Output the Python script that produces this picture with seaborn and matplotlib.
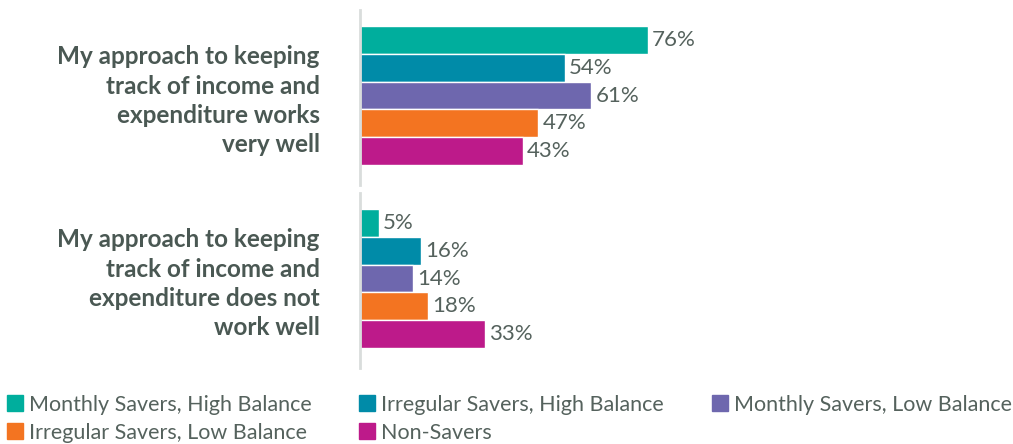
import matplotlib
matplotlib.use("Agg")
import matplotlib.pyplot as plt
from matplotlib.lines import Line2D
import seaborn as sns
import pandas as pd

sns.set_style("white")
plt.rcParams["font.family"] = ["Lato", "DejaVu Sans"]

statements = [
    "My approach to keeping\ntrack of income and\nexpenditure works\nvery well",
    "My approach to keeping\ntrack of income and\nexpenditure does not\nwork well",
]
segments = [
    "Monthly Savers, High Balance",
    "Irregular Savers, High Balance",
    "Monthly Savers, Low Balance",
    "Irregular Savers, Low Balance",
    "Non-Savers",
]
works_well = [76, 54, 61, 47, 43]
not_well = [5, 16, 14, 18, 33]
colors = ["#00AE9D", "#008BA8", "#6E67AE", "#F37421", "#BD1A8A"]

TEXT = "#4A5853"
SPINE = "#D9DDDC"

W, H = 1013, 444
fig = plt.figure(figsize=(W / 100, H / 100), dpi=100)

def px_axes(left, top, right, bottom):
    return fig.add_axes([left / W, 1 - bottom / H, (right - left) / W, (bottom - top) / H])

panels = [
    (statements[0], works_well, (10, 185)),
    (statements[1], not_well, (193, 368)),
]

for label, values, (top, bottom) in panels:
    ax = px_axes(360, top, 1000, bottom)
    df = pd.DataFrame({"statement": [label] * len(segments),
                       "segment": segments, "pct": values})
    sns.barplot(data=df, y="statement", x="pct", hue="segment",
                hue_order=segments, palette=colors, orient="h",
                width=0.8, saturation=1, ax=ax, legend=False)
    for cont in ax.containers:
        ax.bar_label(cont, fmt="%d%%", padding=3, fontsize=16, color="#55625D")
    ax.set_xlim(0, 640 / 3.79)
    ax.set_ylim(0.515, -0.492)
    ax.set_xlabel("")
    ax.set_ylabel("")
    ax.set_xticks([])
    for s in ["top", "right", "bottom"]:
        ax.spines[s].set_visible(False)
    ax.spines["left"].set_color(SPINE)
    ax.spines["left"].set_linewidth(2)
    ax.tick_params(axis="y", length=0, pad=29)
    for t in ax.get_yticklabels():
        t.set_fontsize(17.5)
        t.set_fontweight("bold")
        t.set_color(TEXT)
        t.set_linespacing(1.32)
        t.set_multialignment("right")

handles = [Line2D([0], [0], marker="s", linestyle="none", markersize=11,
                  markerfacecolor=c, markeredgecolor=c) for c in colors]
order = [0, 3, 1, 4, 2]
leg = fig.legend([handles[i] for i in order], [segments[i] for i in order],
                 ncol=3, loc="lower left", bbox_to_anchor=(0.006, 0.0),
                 frameon=False, fontsize=15.5, handlelength=0.7,
                 handletextpad=0.3, columnspacing=2.25, labelspacing=0.38,
                 borderaxespad=0.0, borderpad=0.05)
for t in leg.get_texts():
    t.set_color("#55625D")

fig.savefig("out.png", dpi=100, facecolor="white")
